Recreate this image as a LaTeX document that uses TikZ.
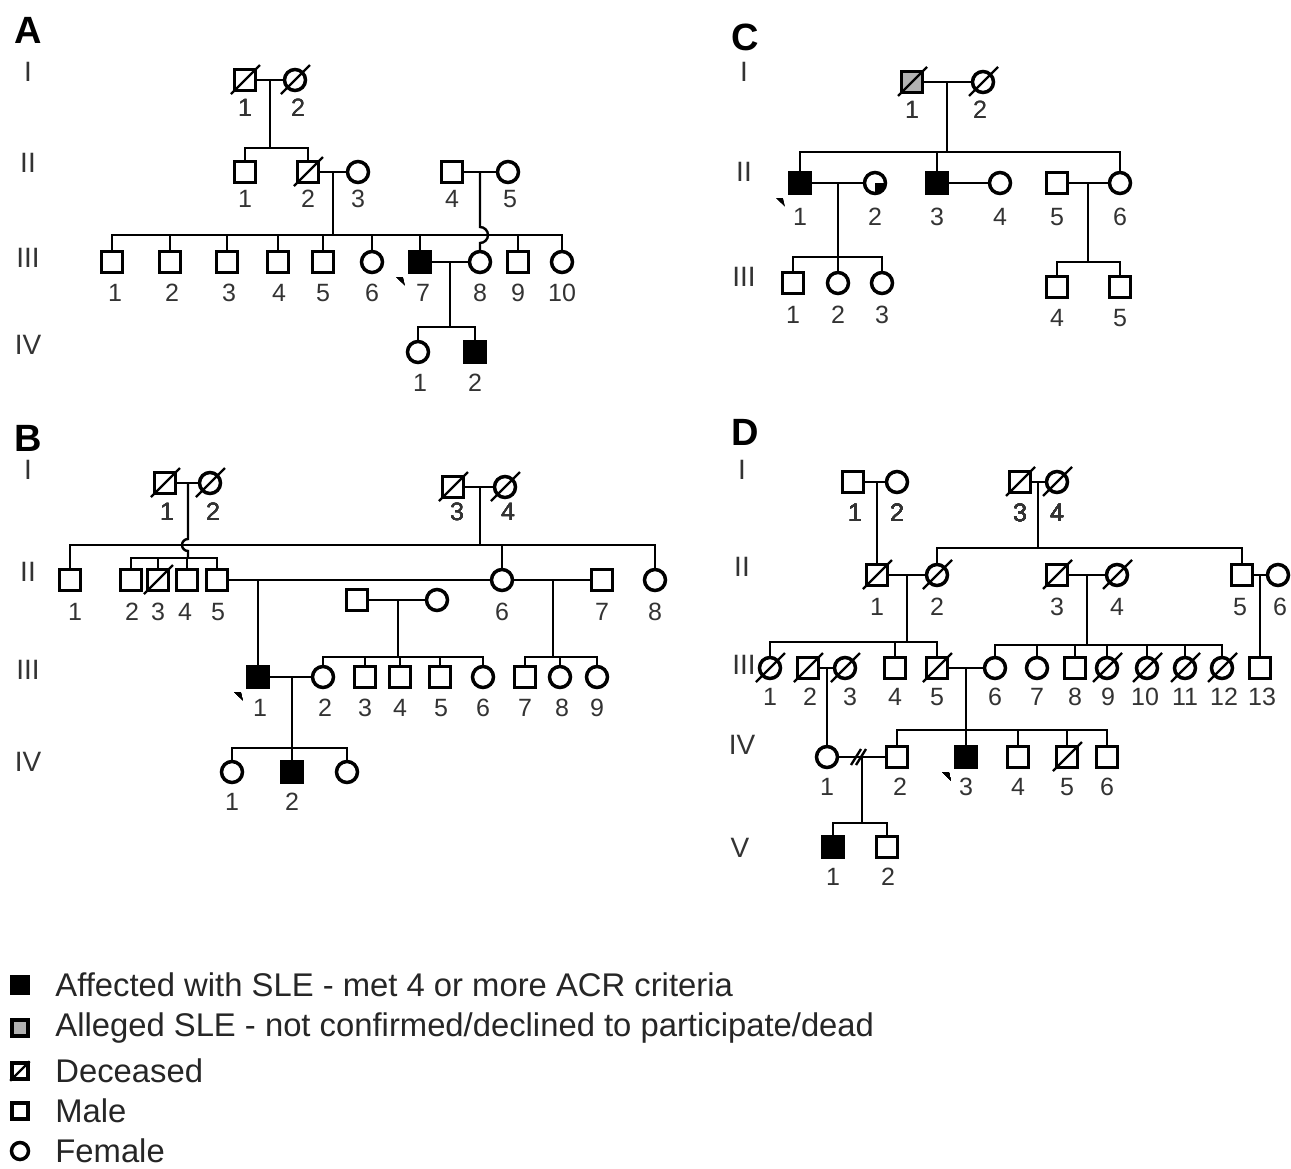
\documentclass[tikz,border=0pt]{standalone}
\usepackage{fontspec}
\setmainfont{Liberation Sans}
\newcommand{\dslash}[1]{\draw[slashln] (#1) ++(-7pt,-7pt) -- ++(14.5pt,14.5pt);}
\newcommand{\probarrow}[1]{\fill (#1) ++(-12pt,-7.5pt) -- ++(3.4pt,0pt) -- ++(1pt,-4.2pt) -- cycle;}
\tikzset{
  sym/.style={draw, line width=1.75pt, inner sep=0pt, minimum size=10.5pt, fill=white},
  sq/.style={sym, rectangle},
  ci/.style={sym, circle},
  aff/.style={sq, fill=black},
  alg/.style={sq, fill=gray!60},
  ln/.style={line width=1.2pt},
  slashln/.style={line width=1.1pt},
  lab/.style={font=\fontsize{12.5}{14}\selectfont, text=black!80, inner sep=0pt},
  gen/.style={font=\fontsize{14}{16}\selectfont, text=black!80, inner sep=0pt},
  pan/.style={font=\bfseries\fontsize{19}{21}\selectfont, inner sep=0pt},
  leg/.style={font=\fontsize{16.4}{18}\selectfont, anchor=west, inner sep=0pt, text=black!85},
}
\begin{document}
\begin{tikzpicture}[x=0.5pt,y=-0.5pt]
\fill[white] (0,0) rectangle (1291,1168);
\useasboundingbox (0,0) rectangle (1291,1168);

% ================= PANEL A =================
\node[pan] (pA) at (28,30) {A};
\foreach \g/\y [count=\i] in {I/72,II/163,III/258,IV/345} \node[gen] (gA\i) at (28,\y) {\g};
\node[sq] (a11) at (245,80) {};
\node[ci] (a12) at (295,80) {};
\node[sq] (a21) at (245,172) {};
\node[sq] (a22) at (308,172) {};
\node[ci] (a23) at (358,172) {};
\node[sq] (a24) at (452,172) {};
\node[ci] (a25) at (508,172) {};
\node[sq] (a31) at (112,262) {};
\node[sq] (a32) at (170,262) {};
\node[sq] (a33) at (227,262) {};
\node[sq] (a34) at (278,262) {};
\node[sq] (a35) at (323,262) {};
\node[ci] (a36) at (372,262) {};
\node[aff] (a37) at (420,262) {};
\node[ci] (a38) at (480,262) {};
\node[sq] (a39) at (518,262) {};
\node[ci] (a310) at (562,262) {};
\node[ci] (a41) at (418,352) {};
\node[aff] (a42) at (475,352) {};
\coordinate (a1m) at (270,80); \coordinate (a1s) at (270,148);
\coordinate (a2m) at (333,172); \coordinate (a2s) at (333,235);
\coordinate (a4m) at (480,172); \coordinate (a3hop) at (480,235);
\coordinate (a3m) at (450,262); \coordinate (a3s) at (450,327);
\begin{scope}[ln]
\draw (a11) -- (a12); \draw (a1m) -- (a1s);
\draw (a21.north) |- (a1s); \draw (a22.north) |- (a1s);
\draw (a22) -- (a23); \draw (a2m) -- (a2s);
\draw (a24) -- (a25);
\foreach \n in {a31,a32,a33,a34,a35,a36,a37,a39,a310} \draw (\n.north) |- (a2s);
\draw (a4m) -- ([yshift=4pt]a3hop) arc[start angle=90,end angle=-90,radius=4pt] -- (a38.north);
\draw (a37) -- (a38); \draw (a3m) -- (a3s);
\draw (a41.north) |- (a3s); \draw (a42.north) |- (a3s);
\end{scope}
\foreach \n in {a11,a12,a22} \dslash{\n}
\probarrow{a37}
\foreach \x/\t [count=\i] in {245/1,298/2} \node[lab] (aL1\i) at (\x,108) {\t};
\foreach \x/\t [count=\i] in {245/1,308/2,358/3,452/4,510/5} \node[lab] (aL2\i) at (\x,199) {\t};
\foreach \x/\t [count=\i] in {115/1,172/2,229/3,279/4,323/5,372/6,423/7,480/8,518/9,562/10} \node[lab] (aL3\i) at (\x,293) {\t};
\foreach \x/\t [count=\i] in {420/1,475/2} \node[lab] (aL4\i) at (\x,383) {\t};

% ================= PANEL B =================
\node[pan] (pB) at (28,438) {B};
\foreach \g/\y [count=\i] in {I/470,II/572,III/670,IV/762} \node[gen] (gB\i) at (28,\y) {\g};
\node[sq] (b11) at (165,483) {};
\node[ci] (b12) at (210,483) {};
\node[sq] (b13) at (453,487) {};
\node[ci] (b14) at (505,487) {};
\node[sq] (b21) at (70,580) {};
\node[sq] (b22) at (131,580) {};
\node[sq] (b23) at (158,580) {};
\node[sq] (b24) at (187,580) {};
\node[sq] (b25) at (217,580) {};
\node[ci] (b26) at (502,580) {};
\node[sq] (b27) at (602,580) {};
\node[ci] (b28) at (655,580) {};
\node[sq] (bu1) at (357,600) {};
\node[ci] (bu2) at (437,600) {};
\node[aff] (b31) at (258,677) {};
\node[ci] (b32) at (323,677) {};
\node[sq] (b33) at (365,677) {};
\node[sq] (b34) at (400,677) {};
\node[sq] (b35) at (440,677) {};
\node[ci] (b36) at (483,677) {};
\node[sq] (b37) at (525,677) {};
\node[ci] (b38) at (560,677) {};
\node[ci] (b39) at (597,677) {};
\node[ci] (b41) at (232,772) {};
\node[aff] (b42) at (292,772) {};
\node[ci] (b43) at (347,772) {};
\coordinate (b1m) at (188,483); \coordinate (b1hop) at (188,545); \coordinate (b1s) at (188,558);
\coordinate (b3m) at (480,487); \coordinate (b3s) at (480,545);
\coordinate (b5m) at (258,580);
\coordinate (b6m) at (553,580); \coordinate (b6s) at (553,657);
\coordinate (bum) at (398,600); \coordinate (bus) at (398,657);
\coordinate (b31m) at (292,677); \coordinate (b31s) at (292,748);
\begin{scope}[ln]
\draw (b11) -- (b12);
\draw (b1m) -- ([yshift=3pt]b1hop) arc[start angle=90,end angle=270,radius=3pt] -- (b1s);
\draw (b13) -- (b14); \draw (b3m) -- (b3s);
\foreach \n in {b21,b26,b28} \draw (\n.north) |- (b3s);
\foreach \n in {b22,b23,b24,b25} \draw (\n.north) |- (b1s);
\draw (b25) -- (b26); \draw (b5m) -- (b31.north);
\draw (b26) -- (b27); \draw (b6m) -- (b6s);
\draw (bu1) -- (bu2); \draw (bum) -- (bus);
\foreach \n in {b32,b33,b34,b35,b36} \draw (\n.north) |- (bus);
\foreach \n in {b37,b38,b39} \draw (\n.north) |- (b6s);
\draw (b31) -- (b32); \draw (b31m) -- (b42.north);
\foreach \n in {b41,b43} \draw (\n.north) |- (b31s);
\end{scope}
\foreach \n in {b11,b12,b13,b14,b23} \dslash{\n}
\probarrow{b31}
\foreach \x/\t [count=\i] in {167/1,213/2,457/3,508/4} \node[lab] (bL1\i) at (\x,512) {\t};
\foreach \x/\t [count=\i] in {75/1,132/2,158/3,185/4,218/5,502/6,602/7,655/8} \node[lab] (bL2\i) at (\x,612) {\t};
\foreach \x/\t [count=\i] in {260/1,325/2,365/3,400/4,441/5,483/6,525/7,562/8,597/9} \node[lab] (bL3\i) at (\x,708) {\t};
\foreach \x/\t [count=\i] in {232/1,292/2} \node[lab] (bL4\i) at (\x,802) {\t};

% ================= PANEL C =================
\node[pan] (pC) at (745,37) {C};
\foreach \g/\y [count=\i] in {I/72,II/172,III/277} \node[gen] (gC\i) at (744,\y) {\g};
\node[alg] (c11) at (912,82) {};
\node[ci] (c12) at (983,82) {};
\node[aff] (c21) at (800,183) {};
\node[ci] (c22) at (875,183) {};
\fill (c22.center) -- ++(0,-5.2pt) arc[start angle=-90,end angle=0,radius=5.2pt] -- cycle;
\node[aff] (c23) at (937,183) {};
\node[ci] (c24) at (1000,183) {};
\node[sq] (c25) at (1057,183) {};
\node[ci] (c26) at (1120,183) {};
\node[sq] (c31) at (793,283) {};
\node[ci] (c32) at (838,283) {};
\node[ci] (c33) at (882,283) {};
\node[sq] (c34) at (1057,287) {};
\node[sq] (c35) at (1120,287) {};
\coordinate (c1m) at (947,82); \coordinate (c1s) at (947,152);
\coordinate (c2m) at (838,183); \coordinate (c2s) at (838,257);
\coordinate (c5m) at (1088,183); \coordinate (c5s) at (1088,262);
\begin{scope}[ln]
\draw (c11) -- (c12); \draw (c1m) -- (c1s);
\foreach \n in {c21,c23,c26} \draw (\n.north) |- (c1s);
\draw (c21) -- (c22); \draw (c2m) -- (c2s);
\draw (c23) -- (c24);
\draw (c25) -- (c26); \draw (c5m) -- (c5s);
\foreach \n in {c31,c32,c33} \draw (\n.north) |- (c2s);
\foreach \n in {c34,c35} \draw (\n.north) |- (c5s);
\end{scope}
\foreach \n in {c11,c12} \dslash{\n}
\probarrow{c21}
\foreach \x/\t [count=\i] in {912/1,980/2} \node[lab] (cL1\i) at (\x,110) {\t};
\foreach \x/\t [count=\i] in {800/1,875/2,937/3,1000/4,1057/5,1120/6} \node[lab] (cL2\i) at (\x,217) {\t};
\foreach \x/\t [count=\i] in {793/1,838/2,882/3} \node[lab] (cL3\i) at (\x,315) {\t};
\foreach \x/\t [count=\i] in {1057/4,1120/5} \node[lab] (cL4\i) at (\x,318) {\t};

% ================= PANEL D =================
\node[pan] (pD) at (745,432) {D};
\foreach \g/\y/\x [count=\i] in {I/470/742,II/567/742,III/665/744,IV/745/742,V/848/740} \node[gen] (gD\i) at (\x,\y) {\g};
\node[sq] (d11) at (853,482) {};
\node[ci] (d12) at (897,482) {};
\node[sq] (d13) at (1020,482) {};
\node[ci] (d14) at (1057,482) {};
\node[sq] (d21) at (877,575) {};
\node[ci] (d22) at (937,575) {};
\node[sq] (d23) at (1057,575) {};
\node[ci] (d24) at (1117,575) {};
\node[sq] (d25) at (1242,575) {};
\node[ci] (d26) at (1278,575) {};
\node[ci] (d31) at (770,668) {};
\node[sq] (d32) at (808,668) {};
\node[ci] (d33) at (845,668) {};
\node[sq] (d34) at (895,668) {};
\node[sq] (d35) at (937,668) {};
\node[ci] (d36) at (995,668) {};
\node[ci] (d37) at (1037,668) {};
\node[sq] (d38) at (1075,668) {};
\node[ci] (d39) at (1107,668) {};
\node[ci] (d310) at (1147,668) {};
\node[ci] (d311) at (1185,668) {};
\node[ci] (d312) at (1222,668) {};
\node[sq] (d313) at (1260,668) {};
\node[ci] (d41) at (827,757) {};
\node[sq] (d42) at (897,757) {};
\node[aff] (d43) at (966,757) {};
\node[sq] (d44) at (1018,757) {};
\node[sq] (d45) at (1067,757) {};
\node[sq] (d46) at (1107,757) {};
\node[aff] (d51) at (833,847) {};
\node[sq] (d52) at (887,847) {};
\coordinate (d1m) at (877,482);
\coordinate (d3m) at (1038,482); \coordinate (d3s) at (1038,548);
\coordinate (d2m) at (907,575); \coordinate (d2s) at (907,642);
\coordinate (d4m) at (1087,575); \coordinate (d4s) at (1087,645);
\coordinate (d6m) at (1260,575);
\coordinate (d32m) at (827,668);
\coordinate (d35m) at (966,668); \coordinate (d35s) at (966,730);
\coordinate (d41m) at (862,757); \coordinate (d41s) at (862,823);
\begin{scope}[ln]
\draw (d11) -- (d12); \draw (d1m) -- (d21.north);
\draw (d13) -- (d14); \draw (d3m) -- (d3s);
\foreach \n in {d22,d25} \draw (\n.north) |- (d3s);
\draw (d21) -- (d22); \draw (d2m) -- (d2s);
\draw (d23) -- (d24); \draw (d4m) -- (d4s);
\draw (d25) -- (d26); \draw (d6m) -- (d313.north);
\foreach \n in {d31,d34,d35} \draw (\n.north) |- (d2s);
\foreach \n in {d36,d37,d38,d39,d310,d311,d312} \draw (\n.north) |- (d4s);
\draw (d32) -- (d33); \draw (d32m) -- (d41.north);
\draw (d35) -- (d36); \draw (d35m) -- (d43.north);
\foreach \n in {d42,d44,d45,d46} \draw (\n.north) |- (d35s);
\draw (d41) -- (d42); \draw (d41m) -- (d41s);
\draw (d41m) ++(-5.5pt,-4pt) -- ++(5pt,8pt);
\draw (d41m) ++(-3pt,-4pt) -- ++(5pt,8pt);
\foreach \n in {d51,d52} \draw (\n.north) |- (d41s);
\end{scope}
\foreach \n in {d13,d14,d21,d22,d23,d24,d31,d32,d33,d35,d39,d310,d311,d312,d45} \dslash{\n}
\probarrow{d43}
\foreach \x/\t [count=\i] in {855/1,897/2,1020/3,1057/4} \node[lab] (dL1\i) at (\x,513) {\t};
\foreach \x/\t [count=\i] in {877/1,937/2,1057/3,1117/4,1240/5,1280/6} \node[lab] (dL2\i) at (\x,607) {\t};
\foreach \x/\t [count=\i] in {770/1,810/2,850/3,895/4,937/5,995/6,1037/7,1075/8,1108/9,1145/10,1185/11,1224/12,1262/13} \node[lab] (dL3\i) at (\x,697) {\t};
\foreach \x/\t [count=\i] in {827/1,900/2,966/3,1018/4,1067/5,1107/6} \node[lab] (dL4\i) at (\x,787) {\t};
\foreach \x/\t [count=\i] in {833/1,888/2} \node[lab] (dL5\i) at (\x,877) {\t};

% ================= LEGEND =================
\node[sq, minimum size=8pt, fill=black] (lg1) at (20,985) {};
\node[sq, minimum size=8pt, fill=gray!60] (lg2) at (20,1028) {};
\node[sq, minimum size=8pt] (lg3) at (20,1071) {};
\draw[slashln] (lg3.south west) -- (lg3.north east);
\node[sq, minimum size=8pt] (lg4) at (20,1111) {};
\node[ci, minimum size=8.5pt] (lg5) at (20,1151) {};
\node[leg] (lt1) at (55,985) {Affected with SLE - met 4 or more ACR criteria};
\node[leg] (lt2) at (55,1028) {Alleged SLE - not confirmed/declined to participate/dead};
\node[leg] (lt3) at (55,1071) {Deceased};
\node[leg] (lt4) at (55,1111) {Male};
\node[leg] (lt5) at (55,1151) {Female};
\end{tikzpicture}
\end{document}
